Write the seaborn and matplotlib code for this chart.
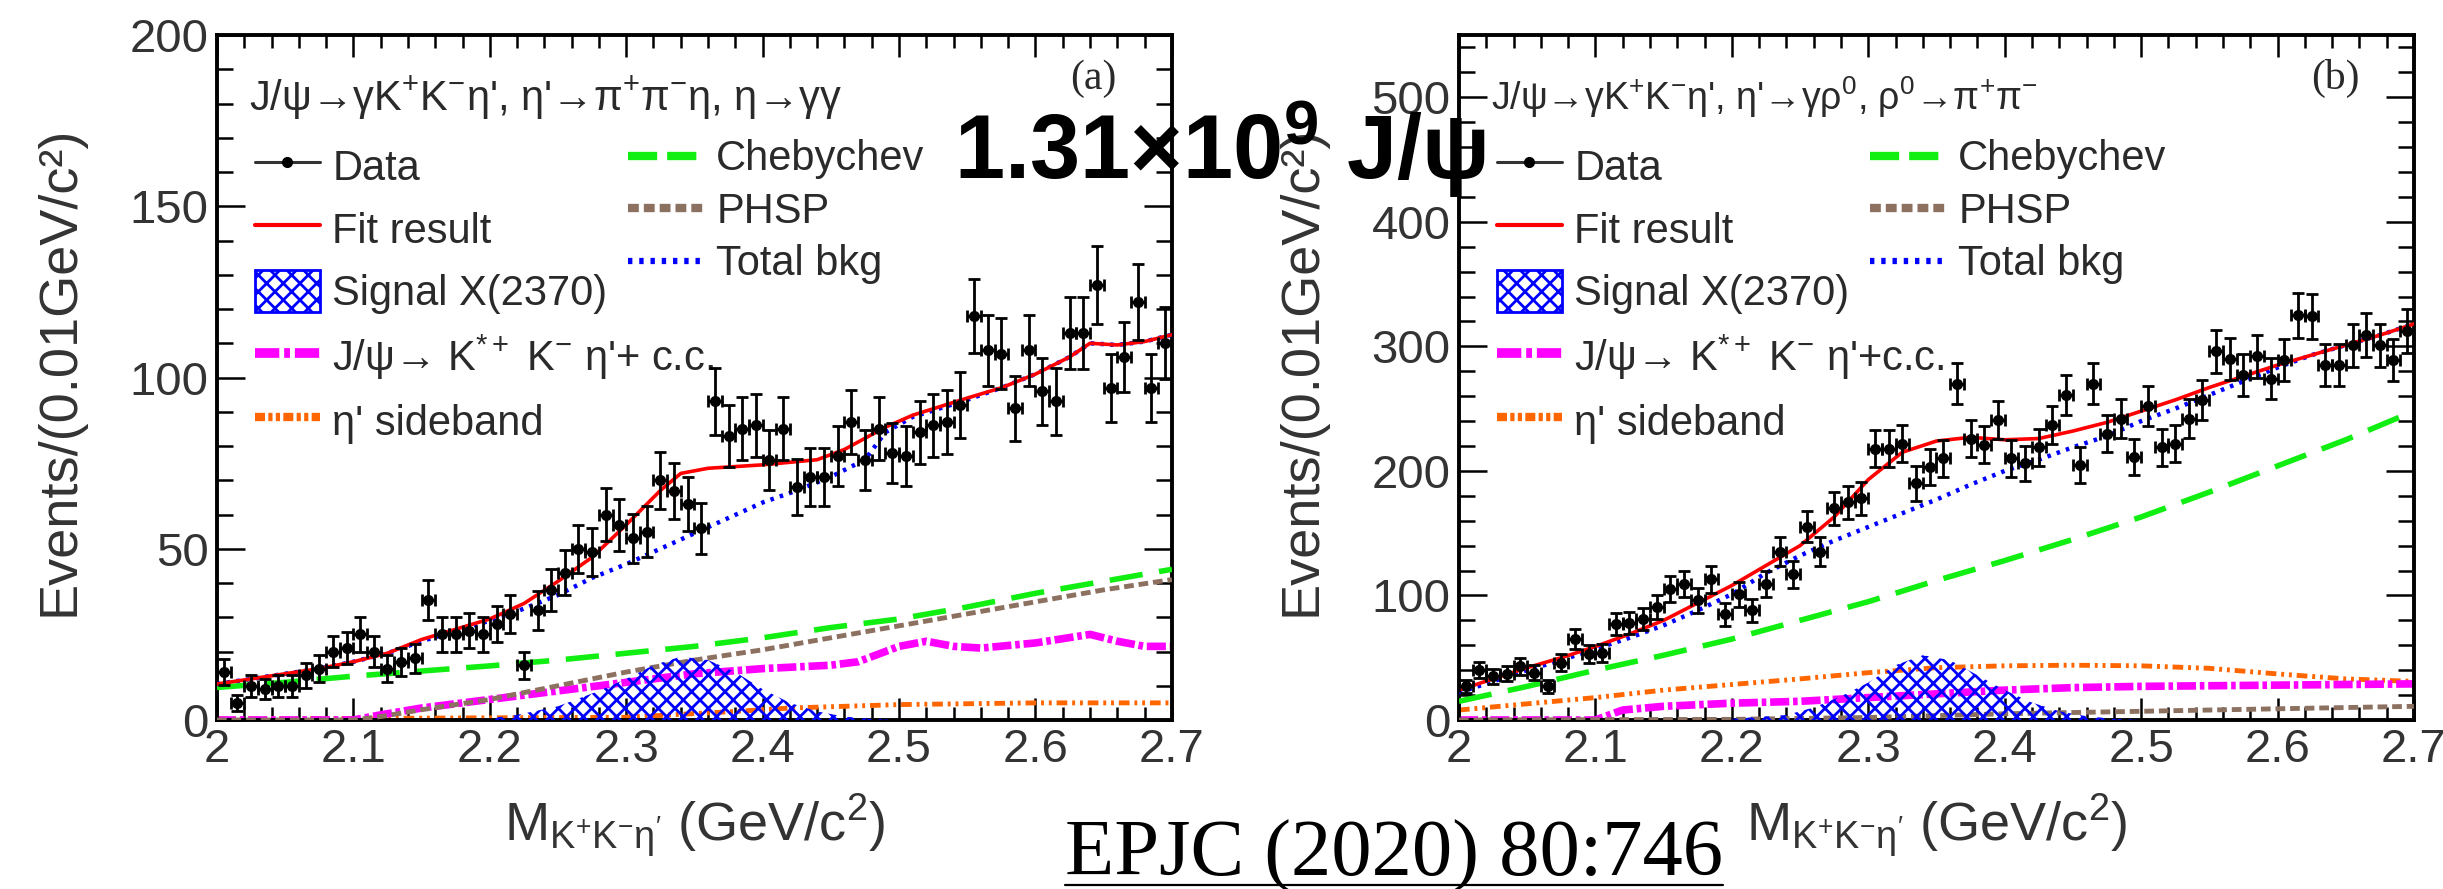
import numpy as np
import matplotlib
matplotlib.use("Agg")
import matplotlib.pyplot as plt
import seaborn as sns
from matplotlib.lines import Line2D
from matplotlib.patches import Patch
from matplotlib.ticker import MultipleLocator, FixedLocator, FixedFormatter

# ------------------------------------------------------------------ data
bin_x = np.round(np.arange(2.005, 2.70, 0.01), 3)          # bin centres, 0.01 GeV bins
x_tick_vals = [2.0, 2.1, 2.2, 2.3, 2.4, 2.5, 2.6, 2.7]
x_tick_labels = ["2", "2.1", "2.2", "2.3", "2.4", "2.5", "2.6", "2.7"]

# panel (a): eta' -> pi+ pi- eta
counts_a = [14, 5, 10, 9, 10, 10, 13, 15, 20, 21, 25, 20, 15, 17, 18, 35, 25, 25, 26, 25,
            28, 31, 16, 32, 38, 43, 50, 49, 60, 57, 53, 55, 70, 67, 63, 56, 93, 83, 85, 86,
            76, 85, 68, 71, 71, 77, 87, 76, 85, 78, 77, 84, 86, 87, 92, 118, 108, 107, 91, 108,
            96, 93, 113, 113, 127, 97, 106, 122, 97, 110]
fit_x_a = [2.00, 2.025, 2.05, 2.075, 2.10, 2.125, 2.15, 2.175, 2.20, 2.225, 2.25, 2.275, 2.30,
           2.325, 2.34, 2.36, 2.40, 2.44, 2.46, 2.49, 2.51, 2.55, 2.575, 2.60, 2.625, 2.64,
           2.66, 2.68, 2.70]
fit_a = [10.5, 12, 13.5, 15, 17, 19.5, 23.5, 26.5, 29.5, 34, 40.5, 47.5, 57, 67, 72, 73.5,
         74.5, 76, 79, 85.5, 89, 94, 97, 101, 106, 110, 109.5, 110.5, 112.5]
bkg_x_a = [2.00, 2.025, 2.05, 2.075, 2.10, 2.125, 2.15, 2.175, 2.20, 2.225, 2.25, 2.275, 2.30,
           2.325, 2.35, 2.375, 2.40, 2.425, 2.45, 2.475, 2.49, 2.51, 2.55, 2.575, 2.60, 2.625,
           2.64, 2.66, 2.68, 2.70]
bkg_a = [10.5, 12, 13.5, 15, 17, 19.5, 23, 26, 29, 32.5, 36.5, 41.5, 45.5, 50, 54.5, 59, 63.5,
         67, 71, 76, 84, 88.5, 93.5, 97, 101, 106, 110, 109.5, 110.5, 112.5]
cheb_x_a = [2.00, 2.05, 2.10, 2.15, 2.20, 2.25, 2.30, 2.35, 2.40, 2.45, 2.50, 2.55, 2.60, 2.65, 2.70]
cheb_a = [9.5, 11, 12.8, 14.3, 15.8, 17.5, 19.5, 21.5, 24, 27, 29.5, 33, 37, 40.5, 44]
phsp_x_a = [2.00, 2.10, 2.12, 2.15, 2.20, 2.25, 2.30, 2.35, 2.40, 2.45, 2.50, 2.55, 2.60, 2.65, 2.70]
phsp_a = [0, 0, 1, 3, 6, 10, 14, 17.5, 20.5, 24, 27.5, 31, 34.5, 38, 41]
kst_x_a = [2.00, 2.10, 2.12, 2.15, 2.20, 2.25, 2.30, 2.35, 2.40, 2.45, 2.47, 2.50, 2.52, 2.54,
           2.56, 2.60, 2.64, 2.66, 2.68, 2.70]
kst_a = [0, 0, 1.5, 3.5, 6, 8.5, 11, 13.5, 15, 16, 17, 21.5, 23, 21.5, 21, 22.5, 25, 23, 21.5, 21.5]
sb_x_a = [2.00, 2.30, 2.38, 2.42, 2.50, 2.60, 2.70]
sb_a = [0.3, 0.8, 2.5, 3.5, 4.5, 5, 5]
sig_x_a = [2.20, 2.22, 2.25, 2.28, 2.30, 2.32, 2.34, 2.36, 2.38, 2.40, 2.42, 2.44, 2.46, 2.48, 2.50]
sig_a = [0.5, 1.5, 4, 8.5, 12, 16, 18.5, 17.5, 14, 9, 5, 2.5, 1, 0.3, 0]

# panel (b): eta' -> gamma rho0
counts_b = [27, 40, 35, 37, 43, 38, 27, 46, 65, 53, 54, 77, 78, 81, 91, 105, 109, 96, 113, 85,
            101, 88, 109, 135, 117, 155, 135, 170, 175, 178, 218, 218, 222, 190, 203, 210, 270,
            226, 221, 241, 210, 206, 219, 237, 261, 205, 270, 230, 242, 211, 252, 219, 222, 242,
            257, 296, 290, 277, 292, 274, 289, 325, 324, 285, 285, 301, 309, 301, 289, 312]
fit_x_b = [2.00, 2.025, 2.05, 2.075, 2.10, 2.125, 2.15, 2.175, 2.20, 2.225, 2.25, 2.275, 2.30,
           2.325, 2.35, 2.375, 2.40, 2.425, 2.45, 2.475, 2.50, 2.525, 2.55, 2.575, 2.60, 2.625,
           2.65, 2.675, 2.70]
fit_b = [24, 33, 42, 50, 59, 69, 80, 94, 108, 124, 140, 163, 193, 215, 224, 227, 225, 226, 232,
         239, 248, 257, 267, 276, 285, 293, 301, 309, 318]
bkg_x_b = fit_x_b
bkg_b = [22, 31, 40, 48, 57, 66, 76, 88, 101, 118, 132, 144, 155, 166, 177, 189, 200, 209, 219,
         228, 240, 250, 261, 272, 283, 293, 301, 309, 318]
cheb_x_b = [2.00, 2.05, 2.10, 2.15, 2.20, 2.25, 2.30, 2.35, 2.40, 2.45, 2.50, 2.55, 2.60, 2.65, 2.70]
cheb_b = [15, 27, 40, 52, 65, 80, 95, 112, 128, 145, 163, 183, 204, 225, 248]
phsp_x_b = [2.00, 2.20, 2.30, 2.40, 2.50, 2.60, 2.70]
phsp_b = [0, 0.5, 2, 5, 7, 9, 11]
kst_x_b = [2.00, 2.10, 2.12, 2.15, 2.20, 2.25, 2.30, 2.35, 2.40, 2.45, 2.50, 2.55, 2.60, 2.65, 2.70]
kst_b = [0, 0, 8, 11, 13.5, 15, 18, 21, 24, 26, 27, 27.5, 28, 28.5, 29]
sb_x_b = [2.00, 2.05, 2.10, 2.15, 2.20, 2.25, 2.30, 2.35, 2.40, 2.45, 2.50, 2.55, 2.60, 2.65, 2.70]
sb_b = [8, 13, 18, 24, 28.5, 33, 38, 42, 43.5, 44, 43.5, 41.5, 37, 33, 31]
sig_x_b = [2.20, 2.24, 2.26, 2.28, 2.30, 2.32, 2.34, 2.36, 2.38, 2.40, 2.42, 2.44, 2.46, 2.48, 2.50]
sig_b = [1, 4, 10, 19, 30, 44, 52, 48, 36, 24, 14, 7, 3, 1, 0]

title_a = r"J/ψ→γK$^{+}$K$^{-}$η', η'→π$^{+}$π$^{-}$η, η→γγ"
title_b = r"J/ψ→γK$^{+}$K$^{-}$η', η'→γρ$^{0}$, ρ$^{0}$→π$^{+}$π$^{-}$"
kst_label_a = r"J/ψ→ K$^{*+}$ K$^{-}$ η'+ c.c."
kst_label_b = r"J/ψ→ K$^{*+}$ K$^{-}$ η'+c.c."
legend_labels = ["Data", "Fit result", "Signal X(2370)", "η' sideband",
                 "Chebychev", "PHSP", "Total bkg"]

# ------------------------------------------------------------------ style
sns.set_theme(style="ticks")
plt.rcParams["font.family"] = ["Liberation Sans", "DejaVu Sans"]
plt.rcParams["mathtext.fontset"] = "custom"
plt.rcParams["mathtext.rm"] = "Liberation Sans"
plt.rcParams["mathtext.it"] = "Liberation Sans"
plt.rcParams["mathtext.bf"] = "Liberation Sans:bold"
plt.rcParams["hatch.linewidth"] = 2.0

C_RED = "#ff0000"
C_BLUE = "#0000ff"
C_GREEN = "#11ee11"
C_BROWN = "#8c7060"
C_MAG = "#ff00ff"
C_ORA = "#ff6600"
TXT = "#2a2a2a"

LS_GREEN = (0, (6, 3))
LS_BROWN = (0, (2, 1))
LS_BLUE = (0, (0.8, 1.4))
LS_MAG = (0, (2.5, 0.5, 0.6, 0.5))
LS_ORA = (0, (2.2, 1, 0.6, 1, 0.6, 1))

fig = plt.figure(figsize=(24.43, 8.89), dpi=100)
ax_a = fig.add_axes([0.0888, 0.1901, 0.3909, 0.7705])
ax_b = fig.add_axes([0.5972, 0.1901, 0.3909, 0.7705])


def draw_panel(ax, counts, fx, fit, bx, bkg, cx, cheb, px, phsp, kx, kst, sx, sb, gx, sig,
               ymax, ymajor, yminor, title, title_size, tag, kst_label):
    sns.lineplot(x=sx, y=sb, ax=ax, color=C_ORA, lw=3.5, linestyle=LS_ORA, zorder=2)
    sns.lineplot(x=kx, y=kst, ax=ax, color=C_MAG, lw=5.5, linestyle=LS_MAG, zorder=2)
    sns.lineplot(x=px, y=phsp, ax=ax, color=C_BROWN, lw=3.5, linestyle=LS_BROWN, zorder=3)
    sns.lineplot(x=cx, y=cheb, ax=ax, color=C_GREEN, lw=4, linestyle=LS_GREEN, zorder=3)
    ax.fill_between(gx, 0, sig, facecolor="none", edgecolor=C_BLUE, hatch="xx",
                    linewidth=0, zorder=4)
    sns.lineplot(x=bx, y=bkg, ax=ax, color=C_BLUE, lw=3.2, linestyle=LS_BLUE, zorder=5)
    sns.lineplot(x=fx, y=fit, ax=ax, color=C_RED, lw=2.6, zorder=6)
    c = np.asarray(counts, dtype=float)
    ax.errorbar(bin_x, c, yerr=np.sqrt(c), xerr=0.005, fmt="o", ms=7, color="black",
                elinewidth=2, capsize=4, capthick=2, zorder=10)

    ax.set_xlim(2.0, 2.7)
    ax.set_ylim(0, ymax)
    ax.xaxis.set_major_locator(FixedLocator(x_tick_vals))
    ax.xaxis.set_major_formatter(FixedFormatter(x_tick_labels))
    ax.xaxis.set_minor_locator(MultipleLocator(0.02))
    ax.yaxis.set_major_locator(MultipleLocator(ymajor))
    ax.yaxis.set_minor_locator(MultipleLocator(yminor))
    ax.tick_params(which="both", direction="in", top=True, right=True, width=1.8,
                   color="black", labelsize=34, labelcolor="#333333")
    ax.tick_params(axis="x", which="major", length=15.8, pad=6)
    ax.tick_params(axis="x", which="minor", length=9.4)
    ax.tick_params(axis="y", which="major", length=20, pad=6)
    ax.tick_params(axis="y", which="minor", length=11.5)
    for s in ax.spines.values():
        s.set_linewidth(2.8)
        s.set_color("black")

    ax.set_ylabel("Events/(0.01GeV/c²)", fontsize=39, color="#333333")
    ax.yaxis.set_label_coords(-0.139, 0.51)
    ax.set_xlabel(r"M$_{\mathregular{K^{+}K^{-}\eta'}}$ (GeV/c$^{2}$)", fontsize=39,
                  color="#333333")
    ax.xaxis.set_label_coords(0.5, -0.105)

    ax.text(0.034, 0.89, title, transform=ax.transAxes, fontsize=title_size, color=TXT,
            ha="left", va="baseline")
    ax.text(0.918, 0.936, tag, transform=ax.transAxes, fontsize=30, color=TXT,
            family="Liberation Serif", ha="center", va="center")

    h_data = Line2D([], [], color="#333333", lw=2.2, marker="o", ms=7, mfc="black", mec="black")
    h_fit = Line2D([], [], color=C_RED, lw=3)
    h_sig = Patch(facecolor="white", edgecolor=C_BLUE, hatch="xx", lw=2)
    h_kst = Line2D([], [], color=C_MAG, lw=7, linestyle=LS_MAG)
    h_sb = Line2D([], [], color=C_ORA, lw=6, linestyle=(0, (1.2, 0.4, 0.5, 0.4, 0.5, 0.4)))
    h_cheb = Line2D([], [], color=C_GREEN, lw=6, linestyle=(0, (3.5, 1.2)))
    h_phsp = Line2D([], [], color=C_BROWN, lw=6, linestyle=(0, (1.3, 0.6)))
    h_bkg = Line2D([], [], color=C_BLUE, lw=4.5, linestyle=(0, (0.7, 1.1)))

    leg1 = ax.legend([h_data, h_fit, h_sig, h_kst, h_sb],
                     [legend_labels[0], legend_labels[1], legend_labels[2], kst_label,
                      legend_labels[3]],
                     loc="upper left", bbox_to_anchor=(0.040, 0.840), frameon=False,
                     fontsize=30, labelcolor=TXT, handlelength=1.55, handleheight=1.2,
                     handletextpad=0.3, labelspacing=0.435, borderpad=0, borderaxespad=0)
    ax.add_artist(leg1)
    ax.legend([h_cheb, h_phsp, h_bkg], legend_labels[4:],
              loc="upper left", bbox_to_anchor=(0.430, 0.848), frameon=False,
              fontsize=30, labelcolor=TXT, handlelength=1.8, handletextpad=0.33,
              labelspacing=0.3, borderpad=0, borderaxespad=0)


draw_panel(ax_a, counts_a, fit_x_a, fit_a, bkg_x_a, bkg_a, cheb_x_a, cheb_a, phsp_x_a, phsp_a,
           kst_x_a, kst_a, sb_x_a, sb_a, sig_x_a, sig_a, 200, 50, 10,
           title_a, 30, "(a)", kst_label_a)
draw_panel(ax_b, counts_b, fit_x_b, fit_b, bkg_x_b, bkg_b, cheb_x_b, cheb_b, phsp_x_b, phsp_b,
           kst_x_b, kst_b, sb_x_b, sb_b, sig_x_b, sig_b, 550, 100, 20,
           title_b, 27, "(b)", kst_label_b)

# overlay annotations
fig.text(0.3905, 0.7986, r"1.31×10$^{\mathbf{9}}$ J/ψ", fontsize=65, fontweight="bold",
         color="black", ha="left", va="baseline")
ref = fig.text(0.436, 0.0146, "EPJC (2020) 80:746", fontsize=58, color="black",
               ha="left", va="baseline", family="Liberation Serif")
fig.canvas.draw()
bb = ref.get_window_extent().transformed(fig.transFigure.inverted())
fig.add_artist(Line2D([bb.x0, bb.x1], [0.0040, 0.0040], transform=fig.transFigure,
                      color="black", lw=1.6))

fig.savefig("out.png", dpi=100)
